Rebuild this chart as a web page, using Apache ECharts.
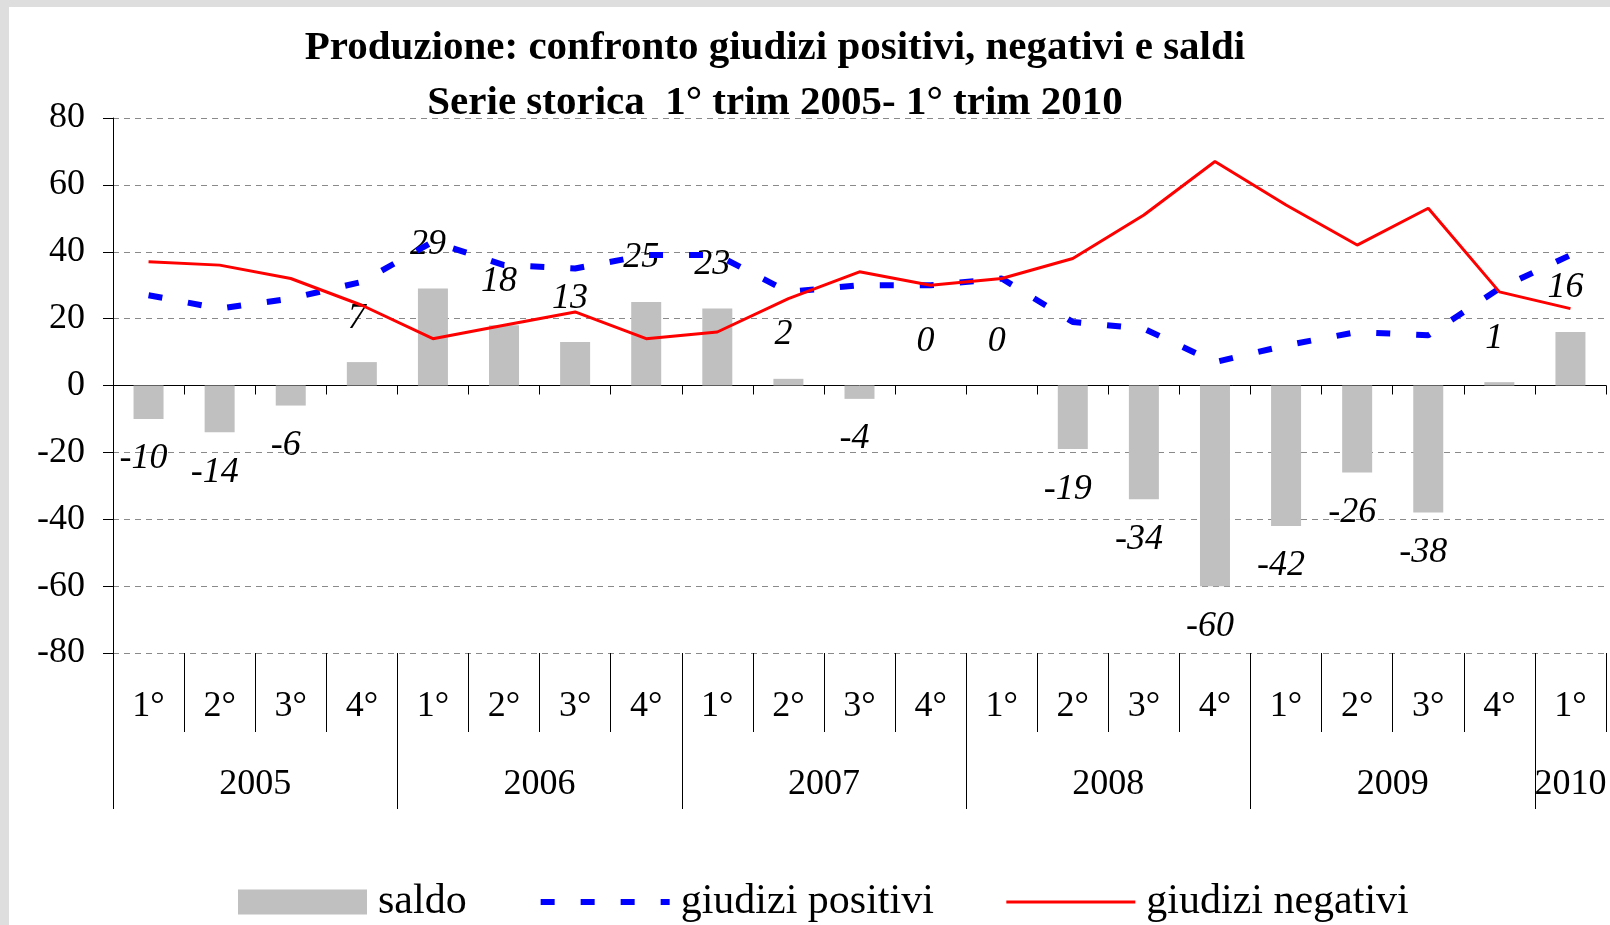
<!DOCTYPE html>
<html>
<head>
<meta charset="utf-8">
<script src="https://cdn.jsdelivr.net/npm/echarts@6/dist/echarts.min.js"></script>
<style>
  html, body { margin: 0; padding: 0; background: #dedede; }
  #chart { position: absolute; left: 9px; top: 7px; width: 1601px; height: 918px; background: #fff; }
</style>
</head>
<body>
<div id="chart"></div>
<script>
const quarters = ['1°', '2°', '3°', '4°', '1°', '2°', '3°', '4°', '1°', '2°', '3°', '4°',
                  '1°', '2°', '3°', '4°', '1°', '2°', '3°', '4°', '1°'];
const years = ['2005', '2006', '2007', '2008', '2009', '2010'];
const quartersPerYear = [4, 4, 4, 4, 4, 1];

const saldo = [-10, -14, -6, 7, 29, 18, 13, 25, 23, 2, -4, 0, 0, -19, -34, -60, -42, -26, -38, 1, 16];
const positivi = [27, 23, 26, 31, 43, 36, 35, 39, 39, 28, 30, 30, 32, 19, 17, 7, 12, 16, 15, 29, 39];
const negativi = [37, 36, 32, 24, 14, 18, 22, 14, 16, 26, 34, 30, 32, 38, 51, 67, 54, 42, 53, 28, 23];

const serif = '"Times New Roman", "Liberation Serif", serif';
const blueDash = { color: '#0000ff', width: 6, type: [14, 26] };
const redLine = { color: '#ff0000', width: 3 };

// where each year starts and where its label sits, in quarter units
const yearStarts = [];
const yearCentres = [];
let pos = 0;
quartersPerYear.forEach(n => {
  yearStarts.push(pos);
  yearCentres.push(pos + n / 2);
  pos += n;
});

const saldoItems = saldo.map(v => ({
  value: v,
  label: { position: v >= 0 ? 'top' : 'bottom', distance: v >= 0 ? 26 : 22 },
}));

const chart = echarts.init(document.getElementById('chart'), null, { renderer: 'canvas' });

chart.setOption({
  animation: false,
  title: {
    text: 'Produzione: confronto giudizi positivi, negativi e saldi\nSerie storica  1° trim 2005- 1° trim 2010',
    left: 766,
    top: 14,
    padding: 0,
    textAlign: 'center',
    textStyle: { fontFamily: serif, fontWeight: 'bold', fontSize: 41, lineHeight: 55, color: '#000' },
  },
  legend: {
    left: 224,
    top: 869,
    itemWidth: 129,
    itemHeight: 25,
    itemGap: 71,
    textStyle: { fontFamily: serif, fontSize: 42, color: '#000', padding: [0, 0, 0, 6] },
    data: [
      { name: 'saldo', icon: 'rect' },
      { name: 'giudizi positivi', itemStyle: { opacity: 0 }, lineStyle: blueDash },
      { name: 'giudizi negativi', itemStyle: { opacity: 0 }, lineStyle: redLine },
    ],
  },
  grid: { left: 104, right: 4, top: 111, bottom: 272 },
  xAxis: [
    {
      type: 'category',
      data: quarters,
      position: 'bottom',
      axisLine: { onZero: true, lineStyle: { color: '#000', width: 1 } },
      axisTick: { show: true, length: 9, lineStyle: { color: '#000' } },
      axisLabel: { show: false },
      splitLine: { show: false },
    },
    {
      type: 'category',
      data: quarters,
      position: 'bottom',
      axisLine: { show: false, onZero: false },
      axisTick: { show: true, length: 79, lineStyle: { color: '#000' } },
      axisLabel: { interval: 0, fontFamily: serif, fontSize: 36, color: '#000', margin: 36 },
      splitLine: { show: false },
    },
    {
      type: 'value',
      min: 0,
      max: 21,
      position: 'bottom',
      axisLine: { show: false, onZero: false },
      axisTick: { show: true, length: 156, customValues: yearStarts, lineStyle: { color: '#000' } },
      axisLabel: {
        customValues: yearCentres,
        formatter: v => years[yearCentres.indexOf(v)] || '',
        fontFamily: serif, fontSize: 36, color: '#000', margin: 114,
      },
      splitLine: { show: false },
    },
  ],
  yAxis: {
    type: 'value',
    min: -80,
    max: 80,
    interval: 20,
    axisLine: { show: true, lineStyle: { color: '#000', width: 1 } },
    axisTick: { show: true, length: 10, lineStyle: { color: '#000' } },
    axisLabel: { fontFamily: serif, fontSize: 36, color: '#000', margin: 28 },
    splitLine: { show: true, lineStyle: { color: '#8a8a8a', type: [6, 5], width: 1 } },
  },
  series: [
    {
      name: 'saldo',
      type: 'bar',
      xAxisIndex: 0,
      barWidth: 30,
      itemStyle: { color: '#c0c0c0' },
      label: {
        show: true, fontFamily: serif, fontStyle: 'italic', fontSize: 36, lineHeight: 36,
        color: '#000', offset: [-5, 0],
      },
      data: saldoItems,
    },
    {
      name: 'giudizi positivi',
      type: 'line',
      xAxisIndex: 0,
      symbol: 'none',
      itemStyle: { color: '#0000ff' },
      lineStyle: blueDash,
      data: positivi,
    },
    {
      name: 'giudizi negativi',
      type: 'line',
      xAxisIndex: 0,
      symbol: 'none',
      itemStyle: { color: '#ff0000' },
      lineStyle: redLine,
      data: negativi,
    },
  ],
});
</script>
</body>
</html>
